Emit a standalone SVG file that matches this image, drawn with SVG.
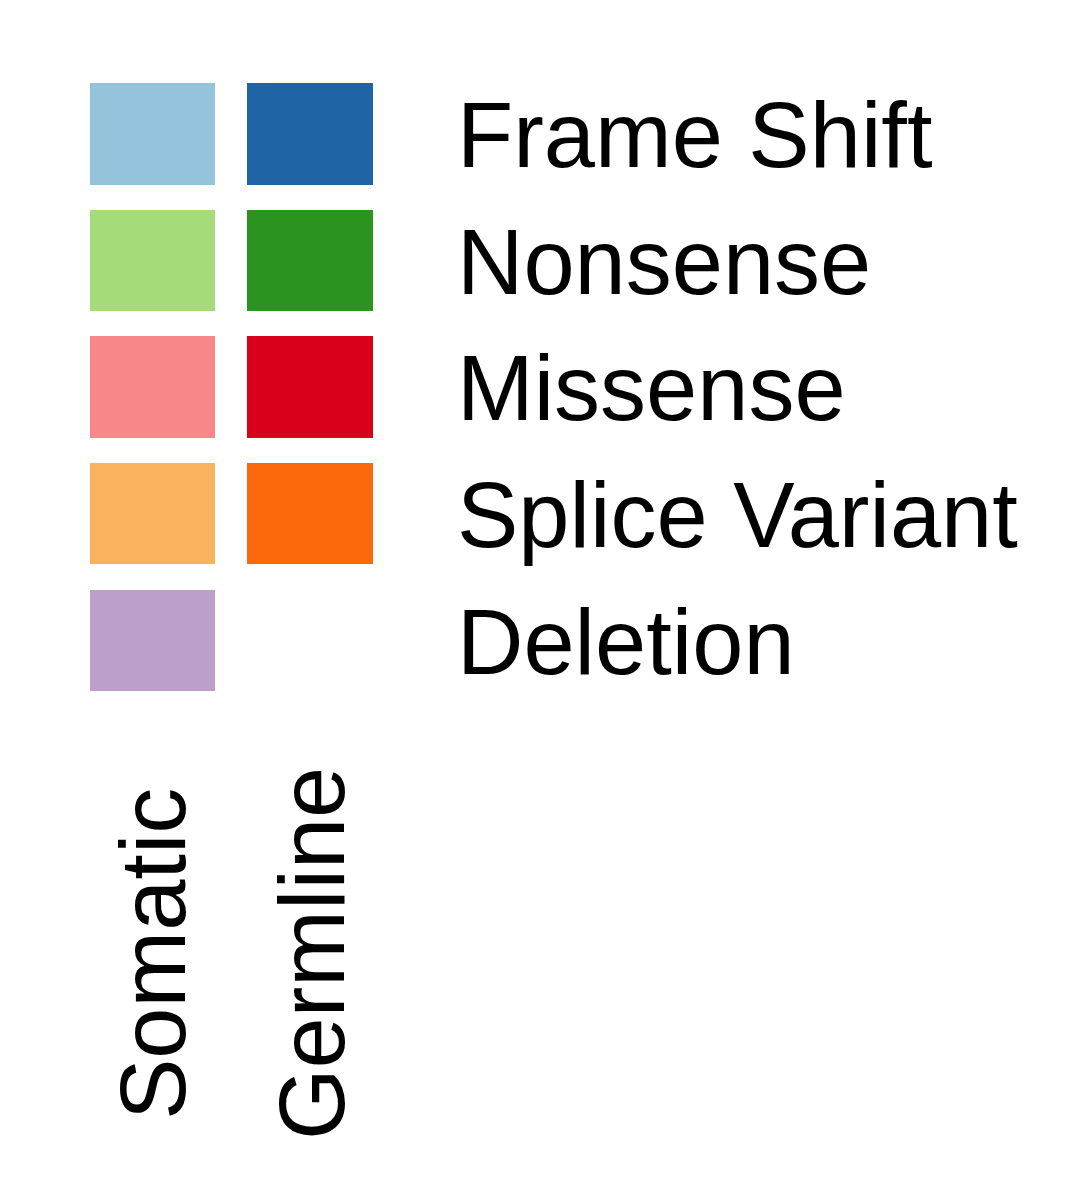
<svg xmlns="http://www.w3.org/2000/svg" width="1080" height="1200" viewBox="0 0 1080 1200">
<style>
text { font-family: "Liberation Sans", Arial, sans-serif; font-size: 92px; fill: #000; }
</style>
<rect width="1080" height="1200" fill="#fff"/>
<g id="frame-shift">
<rect x="90" y="83" width="125" height="102" fill="#96c3dc"/>
<rect x="247" y="83" width="126" height="102" fill="#1f64a5"/>
<text x="457" y="167">Frame Shift</text>
</g>
<g id="nonsense">
<rect x="90" y="210" width="125" height="101" fill="#a6db79"/>
<rect x="247" y="210" width="126" height="101" fill="#2c9220"/>
<text x="457" y="294">Nonsense</text>
</g>
<g id="missense">
<rect x="90" y="336" width="125" height="102" fill="#f88789"/>
<rect x="247" y="336" width="126" height="102" fill="#d9001b"/>
<text x="457" y="420">Missense</text>
</g>
<g id="splice-variant">
<rect x="90" y="463" width="125" height="101" fill="#f9b25e"/>
<rect x="247" y="463" width="126" height="101" fill="#fc690d"/>
<text x="457" y="547">Splice Variant</text>
</g>
<g id="deletion">
<rect x="90" y="590" width="125" height="101" fill="#bd9fcb"/>
<text x="457" y="674">Deletion</text>
</g>
<g id="somatic-label">
<text transform="translate(185,1120) rotate(-90)">Somatic</text>
</g>
<g id="germline-label">
<text transform="translate(344,1140) rotate(-90)">Germline</text>
</g>
<g id="connectors"></g>
</svg>
